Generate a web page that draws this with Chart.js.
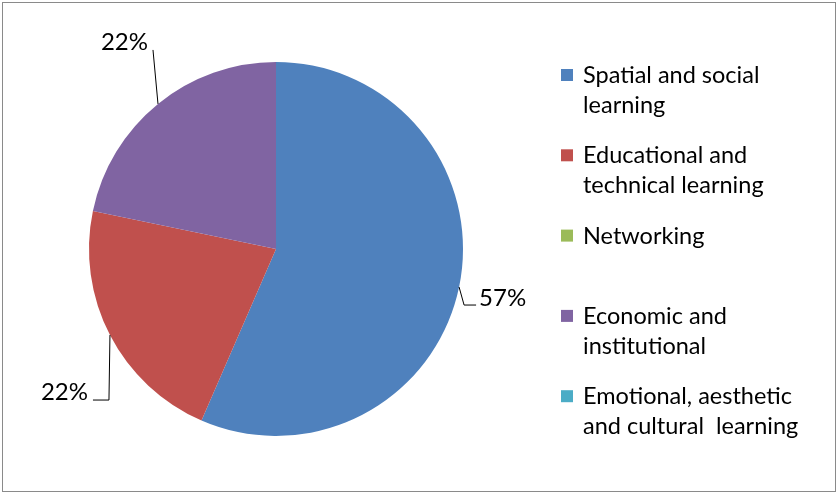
<!DOCTYPE html>
<html>
<head>
<meta charset="utf-8">
<script src="https://cdn.jsdelivr.net/npm/chart.js@4.4.1/dist/chart.umd.min.js"></script>
<style>
  html, body { margin: 0; padding: 0; background: #ffffff; }
  #wrap { position: relative; width: 838px; height: 497px; }
</style>
</head>
<body>
<div id="wrap"><canvas id="pie"></canvas></div>
<script>
// Data (13/23, 5/23, 0, 5/23, 0 -> 57%, 22%, 0%, 22%, 0%)
const categories = [
  ['Spatial and social', 'learning'],
  ['Educational and', 'technical learning'],
  ['Networking'],
  ['Economic and', 'institutional'],
  ['Emotional, aesthetic', 'and cultural  learning'],
];
const values = [13, 5, 0, 5, 0];
const colors = ['#4F81BD', '#C0504D', '#9BBB59', '#8064A2', '#4BACC6'];

const FONT = "Lato, 'Open Sans', sans-serif";

// Frame round the whole picture
const framePlugin = {
  id: 'frame',
  beforeDraw(chart) {
    const ctx = chart.ctx;
    ctx.save();
    ctx.fillStyle = '#ffffff';
    ctx.fillRect(0, 0, chart.width, chart.height);
    ctx.strokeStyle = '#8a8a8a';
    ctx.lineWidth = 1;
    ctx.strokeRect(2.5, 2.5, chart.width - 5, chart.height - 8);
    ctx.restore();
  }
};

// Excel-style legend on the right, items evenly spaced
const legendPlugin = {
  id: 'sideLegend',
  afterDraw(chart, args, opts) {
    const ctx = chart.ctx;
    ctx.save();
    ctx.font = opts.font;
    ctx.textBaseline = 'alphabetic';
    chart.data.labels.forEach((lines, i) => {
      const y = opts.top + i * opts.step;
      ctx.fillStyle = chart.data.datasets[0].backgroundColor[i];
      ctx.fillRect(opts.x, y - 14, 12, 12);
      ctx.fillStyle = '#000000';
      lines.forEach((line, j) => {
        ctx.fillText(line, opts.x + 22, y + j * opts.lineHeight);
      });
    });
    ctx.restore();
  }
};

// Percentage labels with leader lines
const leaderPlugin = {
  id: 'leaders',
  afterDatasetsDraw(chart, args, opts) {
    const ctx = chart.ctx;
    const meta = chart.getDatasetMeta(0);
    const data = chart.data.datasets[0].data;
    const total = data.reduce((a, b) => a + b, 0);
    ctx.save();
    ctx.font = opts.font;
    ctx.fillStyle = '#000000';
    ctx.strokeStyle = '#000000';
    ctx.lineWidth = 1;
    meta.data.forEach((arc, i) => {
      const cfg = opts.placement[i];
      if (!cfg || !data[i]) return;
      const p = arc.getProps(['x', 'y', 'startAngle', 'endAngle', 'outerRadius'], true);
      const mid = (p.startAngle + p.endAngle) / 2;
      const ex = p.x + Math.cos(mid) * p.outerRadius;
      const ey = p.y + Math.sin(mid) * p.outerRadius;
      const bx = ex + cfg.dx;
      const by = ey + cfg.dy;
      const hx = bx + cfg.hx;
      ctx.beginPath();
      ctx.moveTo(ex, ey);
      ctx.lineTo(bx, by);
      if (cfg.hx) ctx.lineTo(hx, by);
      ctx.stroke();
      const txt = Math.round(data[i] / total * 100) + '%';
      ctx.textAlign = cfg.align;
      ctx.textBaseline = 'alphabetic';
      ctx.fillText(txt, hx + cfg.tx, by + cfg.ty);
    });
    ctx.restore();
  }
};

new Chart(document.getElementById('pie'), {
  type: 'pie',
  data: {
    labels: categories,
    datasets: [{
      data: values,
      backgroundColor: colors,
      borderWidth: 0,
    }]
  },
  options: {
    responsive: true,
    maintainAspectRatio: false,
    animation: false,
    layout: { padding: { left: 89, top: 62, right: 375, bottom: 61 } },
    plugins: {
      legend: { display: false },
      tooltip: { enabled: false },
      sideLegend: { x: 561, top: 83, step: 80.3, lineHeight: 30, font: "23.5px " + FONT },
      leaders: {
        font: "24px " + FONT,
        placement: {
          0: { dx: 5, dy: 18, hx: 12, tx: 3, ty: 1, align: 'left' },
          1: { dx: -1, dy: 65, hx: -16, tx: -5, ty: 0, align: 'right' },
          3: { dx: -5, dy: -54, hx: 0, tx: -5, ty: 0, align: 'right' },
        }
      }
    }
  },
  plugins: [framePlugin, legendPlugin, leaderPlugin]
});
</script>
</body>
</html>
